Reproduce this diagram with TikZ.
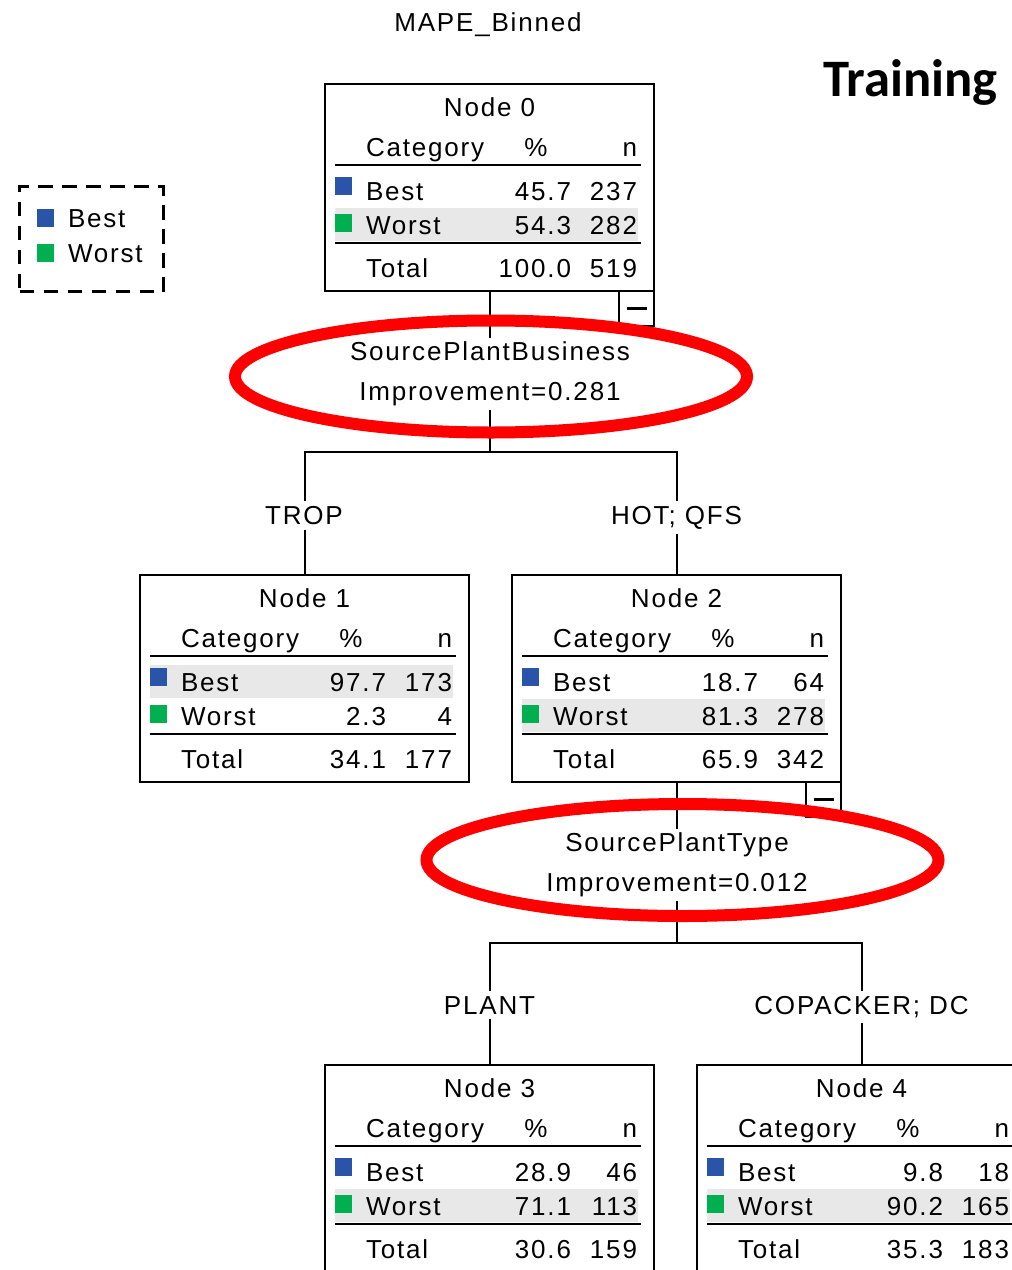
\documentclass[tikz,border=0pt]{standalone}
\usepackage{fontspec}
\usetikzlibrary{shapes.geometric}
\newfontfamily\spssfnt[LetterSpace=7]{Liberation Sans}
\newfontfamily\trainfnt{Carlito}
\definecolor{bestc}{RGB}{42,84,168}
\definecolor{worstc}{RGB}{0,176,80}
\definecolor{hlc}{RGB}{232,232,232}
\definecolor{ellc}{RGB}{255,0,0}
\tikzset{
  txt/.style={font=\spssfnt\fontsize{19.5}{30}\selectfont, inner sep=0pt, outer sep=0pt},
  box/.style={draw, line width=1.5pt, minimum width=246.75pt, minimum height=155.25pt, inner sep=0pt, outer sep=0pt, anchor=north west},
  rulel/.style={line width=1.5pt},
  conn/.style={line width=1.5pt},
  sq/.style={minimum width=12.75pt, minimum height=13.5pt, inner sep=0pt, outer sep=0pt, anchor=north west},
  minusbox/.style={draw, line width=1.5pt, minimum size=26.25pt, inner sep=0pt, outer sep=0pt, anchor=north east},
  splittxt/.style={txt, fill=white, align=center, inner sep=3pt},
  blabel/.style={txt, fill=white, inner sep=4pt, anchor=base},
  ring/.style={ellipse, draw=ellc, line width=9pt, minimum width=384pt, minimum height=84pt, inner sep=0pt},
  legendbox/.style={draw, line width=2.25pt, dash pattern=on 11pt off 7pt, minimum width=108pt, minimum height=78.75pt, inner sep=0pt, anchor=north west}
}
\newcommand\treetotal[3]{%
  \node[txt,anchor=base west] (n#1-t) at (41,193) {Total};
  \node[txt,anchor=base east] (n#1-tp) at (246,193) {#2};
  \node[txt,anchor=base east] (n#1-tn) at (312,193) {#3};}
\newcommand\treenode[9]{%
  \begin{scope}[shift={(#2,#3)}]
    \ifnum#4=1\relax \fill[hlc] (10,90) rectangle (313,123);\else \fill[hlc] (10,124) rectangle (313,157);\fi
    \node[box] (n#1) at (0,0) {};
    \node[txt,anchor=base] (n#1-h) at (164.5,32) {Node #1};
    \node[txt,anchor=base west] (n#1-c) at (41,72) {Category};
    \node[txt,anchor=base] (n#1-pc) at (211,72) {\%};
    \node[txt,anchor=base east] (n#1-nn) at (312,72) {n};
    \draw[rulel] (10,80.5) -- (316,80.5);
    \node[sq,fill=bestc] (n#1-s1) at (10,93) {};
    \node[txt,anchor=base west] (n#1-b) at (41,116) {Best};
    \node[txt,anchor=base east] (n#1-bp) at (246,116) {#5};
    \node[txt,anchor=base east] (n#1-bn) at (312,116) {#6};
    \node[sq,fill=worstc] (n#1-s2) at (10,130) {};
    \node[txt,anchor=base west] (n#1-w) at (41,150) {Worst};
    \node[txt,anchor=base east] (n#1-wp) at (246,150) {#7};
    \node[txt,anchor=base east] (n#1-wn) at (312,150) {#8};
    \draw[rulel] (10,158.5) -- (316,158.5);
    \treetotal{#1}#9
  \end{scope}}
\begin{document}
\begin{tikzpicture}[x=0.75pt,y=-0.75pt]
\useasboundingbox (0,0) rectangle (1011,1270);
\fill[white] (0,0) rectangle (1011,1270);

% title and heading
\node[txt,anchor=base] (title) at (488,32) {MAPE\_Binned};
\node[anchor=base east, inner sep=0pt, font=\trainfnt\bfseries\fontsize{39.5}{42}\selectfont] (train) at (998,97) {Training};

% legend
\node[legendbox] (legend) at (18,185) {};
\node[sq,fill=bestc] (lg1) at (37,209) {};
\node[txt,anchor=base west] (lg1t) at (68,227) {Best};
\node[sq,fill=worstc] (lg2) at (37,244) {};
\node[txt,anchor=base west] (lg2t) at (68,262) {Worst};

% tree nodes
\treenode{0}{325}{84}{2}{45.7}{237}{54.3}{282}{{100.0}{519}}
\treenode{1}{140}{575}{1}{97.7}{173}{2.3}{4}{{34.1}{177}}
\treenode{2}{512}{575}{2}{18.7}{64}{81.3}{278}{{65.9}{342}}
\treenode{3}{325}{1065}{2}{28.9}{46}{71.1}{113}{{30.6}{159}}
\treenode{4}{697}{1065}{2}{9.8}{18}{90.2}{165}{{35.3}{183}}

% collapse boxes
\node[minusbox] (m0) at (n0.south east) {\rule{15pt}{2pt}};
\node[minusbox] (m2) at (n2.south east) {\rule{15pt}{2pt}};

% connectors
\draw[conn] (n0.south) -- ++(0,161) coordinate (j0);
\draw[conn] (j0) -| (n1.north);
\draw[conn] (j0) -| (n2.north);
\draw[conn] (n2.south) -- ++(0,161) coordinate (j2);
\draw[conn] (j2) -| (n3.north);
\draw[conn] (j2) -| (n4.north);

% split texts
\node[splittxt] (s1) at (490,374) {SourcePlantBusiness\\Improvement=0.281};
\node[splittxt] (s2) at (677,865) {SourcePlantType\\Improvement=0.012};

% red rings
\node[ring] (e1) at (491,376.5) {};
\node[ring] (e2) at (682.5,860) {};

% branch labels
\node[blabel] (l1) at (304,524) {TROP};
\node[blabel] (l2) at (676.5,524) {HOT; QFS};
\node[blabel] (l3) at (489.5,1014) {PLANT};
\node[blabel] (l4) at (861.5,1014) {COPACKER; DC};
\end{tikzpicture}
\end{document}
